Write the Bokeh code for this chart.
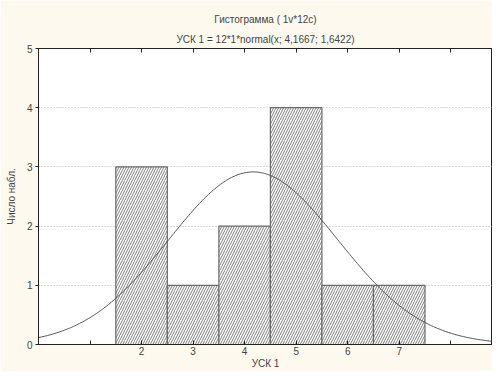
import numpy as np
from bokeh.plotting import figure
from bokeh.models import Title, FixedTicker, Range1d, LinearAxis
from bokeh.embed import file_html
from bokeh.resources import INLINE

# data
bin_centers = [2, 3, 4, 5, 6, 7]
counts = [3, 1, 2, 4, 1, 1]
n_obs = 12
bin_width = 1
mean_val = 4.1667
sd_val = 1.6422
title1 = "Гистограмма ( 1v*12c)"
title2 = "УСК 1 = 12*1*normal(x; 4,1667; 1,6422)"
x_label = "УСК 1"
y_label = "Число набл."
x_ticks = [0, 1, 2, 3, 4, 5, 6, 7, 8]
x_tick_labels = {0: "", 1: "", 8: ""}
y_ticks = [0, 1, 2, 3, 4, 5]
y_max = 5

BG = "#FDF9EF"
FONT = "Liberation Sans"
X_END = 8.81

p = figure(width=492, height=371, output_backend="svg", toolbar_location=None,
           x_range=Range1d(0, X_END), y_range=Range1d(0, y_max),
           min_border_left=38, min_border_right=0, min_border_top=48, min_border_bottom=0,
           background_fill_color="white", border_fill_color=BG,
           outline_line_color="#222222")
p.title.text = title1
p.title.align = "center"
p.title.text_font = FONT
p.title.text_font_size = "10px"
p.title.text_font_style = "normal"
p.title.standoff = 6

xa = p.below[0]
ya = p.left[0]

top = LinearAxis(ticker=FixedTicker(ticks=x_ticks), major_tick_in=4, major_tick_out=0,
                 minor_tick_line_color=None, axis_line_color="#222222",
                 major_tick_line_color="#222222", major_label_text_color=None,
                 major_label_text_font_size="1px", major_label_standoff=0)
sub = Title(text=title2, align="center", text_font=FONT, text_font_size="10px",
            text_font_style="normal", standoff=8)
p.above = [top, sub]

p.xgrid.visible = False
p.ygrid.ticker = FixedTicker(ticks=[1, 2, 3, 4])
p.ygrid.grid_line_color = "#B0B0B0"
p.ygrid.grid_line_dash = "1 2"

xa.ticker = FixedTicker(ticks=x_ticks)
xa.major_label_overrides = x_tick_labels
xa.major_tick_in = 4
xa.major_tick_out = 0
xa.minor_tick_line_color = None
xa.axis_line_color = "#222222"
xa.major_tick_line_color = "#222222"
xa.major_label_text_font = FONT
xa.major_label_text_font_size = "10px"
xa.major_label_standoff = 2
xa.axis_label = x_label
xa.axis_label_text_font = FONT
xa.axis_label_text_font_size = "10px"
xa.axis_label_text_font_style = "normal"
xa.axis_label_standoff = 0

ya.ticker = FixedTicker(ticks=y_ticks)
ya.major_tick_in = 0
ya.major_tick_out = 3
ya.minor_tick_line_color = None
ya.axis_line_color = "#222222"
ya.major_tick_line_color = "#222222"
ya.major_label_text_font = FONT
ya.major_label_text_font_size = "10px"
ya.major_label_standoff = 3
ya.axis_label = y_label
ya.axis_label_text_font = FONT
ya.axis_label_text_font_size = "10px"
ya.axis_label_text_font_style = "normal"
ya.axis_label_standoff = 7

p.vbar(x=bin_centers, top=counts, width=bin_width, bottom=0,
       fill_color="white", line_color="#6A6A6A", line_width=1.2,
       hatch_pattern="/", hatch_color="#808080", hatch_scale=5, hatch_weight=1)

xs = np.linspace(0, X_END, 300)
ys = n_obs * bin_width * np.exp(-0.5 * ((xs - mean_val) / sd_val) ** 2) / (sd_val * np.sqrt(2 * np.pi))
p.line(xs, ys, line_color="#555555", line_width=1)

open("out.html", "w").write(file_html(p, INLINE))
